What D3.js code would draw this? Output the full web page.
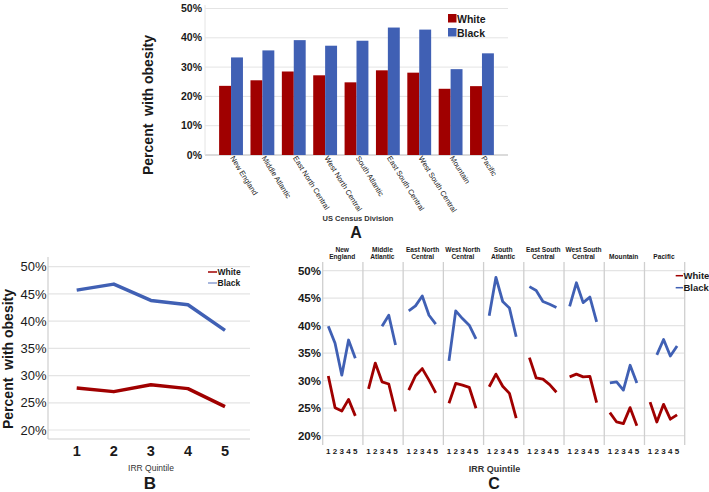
<!DOCTYPE html>
<html><head><meta charset="utf-8">
<script src="https://cdn.jsdelivr.net/npm/d3@7"></script>
<style>body{margin:0;background:#fff}svg{display:block;font-family:"Liberation Sans",Arial,sans-serif}</style>
</head><body><svg id="c" width="709" height="492"></svg>
<script>
const divisions = ["New England","Middle Atlantic","East North Central","West North Central","South Atlantic","East South Central","West South Central","Mountain","Pacific"];
const facetLabels = [["New","England"],["Middle","Atlantic"],["East North","Central"],["West North","Central"],["South","Atlantic"],["East South","Central"],["West South","Central"],["Mountain"],["Pacific"]];
const seriesNames = ["White","Black"];
const whiteByDivision = [23.6,25.5,28.5,27.2,24.8,28.9,28.1,22.6,23.5];
const blackByDivision = [33.3,35.7,39.2,37.3,39.0,43.5,42.8,29.3,34.7];
const quintiles = [1,2,3,4,5];
const whiteByQuintile = [27.7,27.05,28.3,27.6,24.3];
const blackByQuintile = [45.7,46.8,43.8,43.0,38.3];
const whiteByDivQuintile = [
  [30.85,25.1,24.5,26.6,23.6],
  [28.5,33.2,29.8,29.4,24.4],
  [28.3,30.9,32.2,30.1,27.8],
  [25.9,29.5,29.2,28.8,25.0],
  [28.9,31.2,29.0,27.7,23.2],
  [34.2,30.5,30.3,29.3,27.9],
  [30.7,31.2,30.7,30.8,26.0],
  [24.2,22.5,22.2,25.1,21.8],
  [26.1,22.5,25.7,23.0,23.8]
];
const blackByDivQuintile = [
  [39.9,36.8,31.0,37.4,34.1],
  [null,null,39.9,41.9,36.5],
  [42.7,43.6,45.4,41.9,40.3],
  [33.6,42.7,41.3,40.1,37.6],
  [41.8,48.8,44.4,43.2,38.0],
  [47.1,46.4,44.4,43.9,43.3],
  [43.5,47.8,44.2,45.2,40.7],
  [29.6,29.8,28.3,32.8,29.6],
  [null,34.7,37.5,34.5,36.3]
];
const ticksA = [0,10,20,30,40,50];
const ticksBC = [20,25,30,35,40,45,50];

const RED = "#a00000", BLUE = "#4060b4", GRID = "#e4e4e4", AXIS = "#cfcfcf", TXT = "#1a1a1a";
const svg = d3.select("#c");
const pct = d => d + "%";

// ---------- Panel A ----------
{
  const g = svg.append("g");
  const y = d3.scaleLinear().domain([0,50]).range([155,8.5]);
  const x0 = d3.scaleBand().domain(divisions).range([205,508]).paddingInner(0.24).paddingOuter(0.45);
  const x1 = d3.scaleBand().domain(seriesNames).range([0,x0.bandwidth()]);
  g.selectAll("line.grid").data(ticksA).join("line")
    .attr("x1",205).attr("x2",508).attr("y1",d=>y(d)).attr("y2",d=>y(d))
    .attr("stroke",d=>d===0?AXIS:GRID).attr("stroke-width",d=>d===0?1.5:1);
  g.append("line").attr("x1",205).attr("x2",205).attr("y1",5).attr("y2",155).attr("stroke",GRID);
  g.selectAll("text.yt").data(ticksA).join("text")
    .attr("x",202).attr("y",d=>y(d)).attr("dy","0.35em").attr("text-anchor","end")
    .attr("font-size",10.5).attr("font-weight","bold").attr("fill",TXT).text(pct);
  const series = [whiteByDivision, blackByDivision];
  const cols = [RED, BLUE];
  divisions.forEach((dv,i)=>{
    seriesNames.forEach((s,j)=>{
      const v = series[j][i];
      g.append("rect").attr("x",x0(dv)+x1(s)).attr("width",x1.bandwidth())
        .attr("y",y(v)).attr("height",y(0)-y(v)).attr("fill",cols[j]);
    });
    const cx = x0(dv)+x0.bandwidth()/2;
    g.append("text").attr("transform",`translate(${cx-1},${158}) rotate(58)`)
      .attr("font-size",7.5).attr("fill",TXT).text(dv);
  });
  g.append("text").attr("transform","translate(153,105) rotate(-90)").attr("text-anchor","middle")
    .attr("font-size",14).attr("font-weight","bold").attr("fill",TXT).attr("xml:space","preserve").text("Percent  with obesity");
  g.append("text").attr("x",358).attr("y",221).attr("text-anchor","middle").attr("font-size",7.5).attr("font-weight","bold").attr("fill","#333").text("US Census Division");
  g.append("text").attr("x",356).attr("y",238).attr("text-anchor","middle").attr("font-size",16).attr("font-weight","bold").attr("fill",TXT).text("A");
  seriesNames.forEach((s,j)=>{
    g.append("rect").attr("x",448).attr("y",14+j*14).attr("width",8.5).attr("height",8.5).attr("fill",cols[j]);
    g.append("text").attr("x",457).attr("y",22.5+j*14).attr("font-size",10.5).attr("font-weight","bold").attr("fill",TXT).text(s);
  });
}

// ---------- Panel B ----------
{
  const g = svg.append("g");
  const y = d3.scaleLinear().domain([20,50]).range([430,266.7]);
  const x = d3.scalePoint().domain(quintiles).range([76.7,225]);
  g.selectAll("line.grid").data(ticksBC).join("line")
    .attr("x1",48).attr("x2",250).attr("y1",d=>y(d)).attr("y2",d=>y(d)).attr("stroke",GRID).attr("stroke-width",1.2);
  g.append("line").attr("x1",48).attr("x2",48).attr("y1",257).attr("y2",439).attr("stroke",AXIS).attr("stroke-width",1.2);
  g.append("line").attr("x1",48).attr("x2",250).attr("y1",439).attr("y2",439).attr("stroke",AXIS).attr("stroke-width",1.2);
  g.selectAll("text.yt").data(ticksBC).join("text")
    .attr("x",46.5).attr("y",d=>y(d)).attr("dy","0.36em").attr("text-anchor","end")
    .attr("font-size",13).attr("fill",TXT).text(pct);
  g.selectAll("text.xt").data(quintiles).join("text")
    .attr("x",d=>x(d)).attr("y",456).attr("text-anchor","middle")
    .attr("font-size",14.5).attr("font-weight","bold").attr("fill",TXT).text(d=>d);
  const line = d3.line().x((d,i)=>x(quintiles[i])).y(d=>y(d));
  g.append("path").attr("d",line(whiteByQuintile)).attr("fill","none").attr("stroke",RED).attr("stroke-width",3.5).attr("stroke-linejoin","round");
  g.append("path").attr("d",line(blackByQuintile)).attr("fill","none").attr("stroke",BLUE).attr("stroke-width",3.5).attr("stroke-linejoin","round");
  g.append("text").attr("transform","translate(13,359) rotate(-90)").attr("text-anchor","middle")
    .attr("font-size",14).attr("font-weight","bold").attr("fill",TXT).attr("xml:space","preserve").text("Percent  with obesity");
  g.append("text").attr("x",151).attr("y",471).attr("text-anchor","middle").attr("font-size",8.5).attr("fill","#333").text("IRR Quintile");
  g.append("text").attr("x",150).attr("y",489).attr("text-anchor","middle").attr("font-size",17).attr("font-weight","bold").attr("fill",TXT).text("B");
  [RED,BLUE].forEach((c,j)=>{
    g.append("line").attr("x1",208).attr("x2",217).attr("y1",272+j*11).attr("y2",272+j*11).attr("stroke",c).attr("stroke-width",1.5).attr("opacity",j?0.6:1);
    g.append("text").attr("x",217.5).attr("y",275+j*11).attr("font-size",8.5).attr("font-weight","bold").attr("fill",TXT).text(seriesNames[j]);
  });
}

// ---------- Panel C ----------
{
  const g = svg.append("g");
  const y = d3.scaleLinear().domain([20,50]).range([435.7,270.7]);
  const fx = d3.scaleBand().domain(divisions).range([322.7,684.7]);
  g.selectAll("line.grid").data(ticksBC).join("line")
    .attr("x1",322.7).attr("x2",684.7).attr("y1",d=>y(d)).attr("y2",d=>y(d)).attr("stroke",GRID).attr("stroke-width",1.2);
  const edges = divisions.map(d=>fx(d)).concat([684.7]);
  g.selectAll("line.sep").data(edges).join("line")
    .attr("x1",d=>d).attr("x2",d=>d).attr("y1",262).attr("y2",445).attr("stroke",AXIS).attr("stroke-width",1.3);
  g.selectAll("text.yt").data(ticksBC).join("text")
    .attr("x",321).attr("y",d=>y(d)).attr("dy","0.36em").attr("text-anchor","end")
    .attr("font-size",11.5).attr("font-weight","bold").attr("fill",TXT).text(pct);
  divisions.forEach((dv,i)=>{
    const left = fx(dv);
    const x = d3.scalePoint().domain(quintiles).range([left+5.6,left+32.6]);
    const line = d3.line().defined(d=>d!==null).x((d,k)=>x(quintiles[k])).y(d=>y(d));
    g.append("path").attr("d",line(whiteByDivQuintile[i])).attr("fill","none").attr("stroke",RED).attr("stroke-width",2.8).attr("stroke-linejoin","round");
    g.append("path").attr("d",line(blackByDivQuintile[i])).attr("fill","none").attr("stroke",BLUE).attr("stroke-width",2.8).attr("stroke-linejoin","round");
    g.selectAll(null).data(quintiles).join("text")
      .attr("x",d=>x(d)).attr("y",453.5).attr("text-anchor","middle")
      .attr("font-size",8).attr("font-weight","bold").attr("fill",TXT).text(d=>d);
    const lab = facetLabels[i];
    const cx = left + 19.5;
    lab.forEach((t,k)=>{
      g.append("text").attr("x",cx).attr("y",259 - (lab.length-1-k)*7.2).attr("text-anchor","middle")
        .attr("font-size",6.6).attr("font-weight","bold").attr("fill",TXT).text(t);
    });
  });
  g.append("text").attr("x",494.5).attr("y",472).attr("text-anchor","middle").attr("font-size",9).attr("font-weight","bold").attr("fill","#333").text("IRR Quintile");
  g.append("text").attr("x",494).attr("y",489).attr("text-anchor","middle").attr("font-size",16).attr("font-weight","bold").attr("fill",TXT).text("C");
  [RED,BLUE].forEach((c,j)=>{
    g.append("line").attr("x1",675.7).attr("x2",683).attr("y1",275.7+j*12).attr("y2",275.7+j*12).attr("stroke",c).attr("stroke-width",1.5);
    g.append("text").attr("x",683.5).attr("y",279+j*12).attr("font-size",9.5).attr("font-weight","bold").attr("fill",TXT).text(seriesNames[j]);
  });
}
</script></body></html>
